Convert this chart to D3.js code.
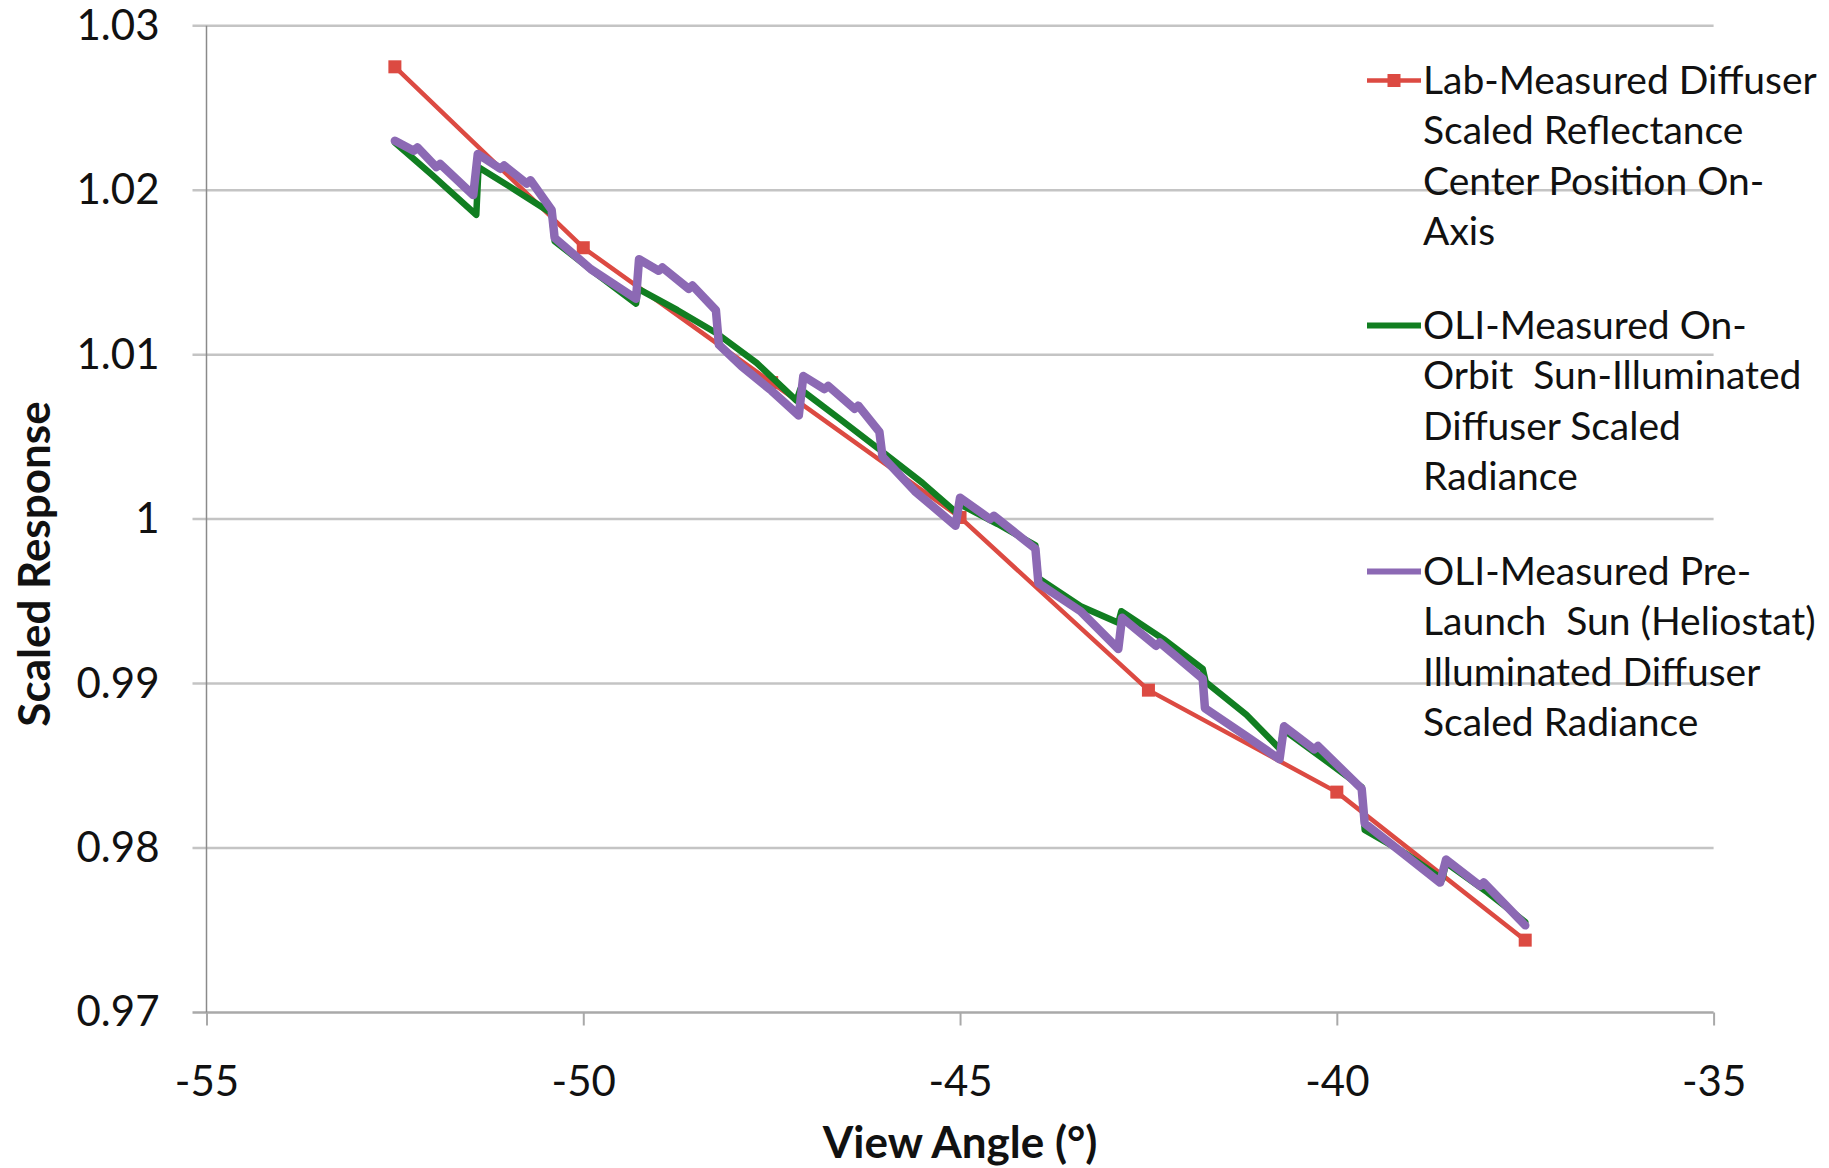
<!DOCTYPE html>
<html>
<head>
<meta charset="utf-8">
<script src="https://cdn.jsdelivr.net/npm/d3@7"></script>
<style>
  body { margin: 0; background: #fff; }
  text { font-family: Lato, "Open Sans", sans-serif; fill: #111; }
</style>
</head>
<body>
<svg width="1829" height="1168"></svg>
<script>
// axis ticks
const angleTicks = [-55, -50, -45, -40, -35];
const responseTicks = [0.97, 0.98, 0.99, 1.00, 1.01, 1.02, 1.03];

// lab-measured diffuser reflectance (square markers)
const labAngle = [-52.5, -50, -47.5, -45, -42.5, -40, -37.5];
const labResponse = [1.0275, 1.0165, 1.0083, 1.0001, 0.9896, 0.9834, 0.9744];

// OLI on-orbit sun-illuminated diffuser radiance
const orbitAngle = [-52.5, -52.0, -51.42, -51.39, -50.9, -50.42, -50.38, -49.85, -49.3, -49.27,
  -48.75, -48.23, -47.7, -47.17, -47.12, -46.6, -46.06, -45.5, -45.05, -45.0, -44.5, -44.0,
  -43.96, -43.4, -42.9, -42.86, -42.3, -41.78, -41.74, -41.2, -40.75, -40.71, -40.2, -39.67,
  -39.63, -39.1, -38.6, -38.55, -38.0, -37.5];
const orbitResponse = [1.0229, 1.0209, 1.0185, 1.0214, 1.0200, 1.0186, 1.0169, 1.0150, 1.0131, 1.0140,
  1.0127, 1.0113, 1.0095, 1.0072, 1.0079, 1.0061, 1.0042, 1.0022, 1.0004, 1.0009, 0.9997, 0.9984,
  0.9964, 0.9947, 0.9937, 0.9944, 0.9927, 0.9909, 0.9901, 0.9881, 0.9860, 0.9872, 0.9855, 0.9837,
  0.9811, 0.9797, 0.9781, 0.9791, 0.9773, 0.9755];

// OLI pre-launch sun (heliostat) illuminated diffuser radiance
const prelaunchAngle = [-52.5, -52.25, -52.2, -51.95, -51.9, -51.46, -51.4, -51.1, -51.05, -50.75,
  -50.7, -50.42, -50.38, -49.9, -49.3, -49.26, -49.0, -48.95, -48.6, -48.55, -48.24, -48.2, -47.9,
  -47.5, -47.14, -47.08, -46.8, -46.75, -46.4, -46.35, -46.07, -46.03, -45.6, -45.06, -45.0,
  -44.6, -44.55, -44.0, -43.96, -43.4, -42.9, -42.85, -42.4, -42.35, -41.78, -41.75, -41.2,
  -40.76, -40.7, -40.3, -40.25, -39.67, -39.63, -39.1, -38.63, -38.55, -38.1, -38.05, -37.5];
const prelaunchResponse = [1.0230, 1.0224, 1.0226, 1.0214, 1.0216, 1.0197, 1.0222, 1.0213, 1.0215, 1.0204,
  1.0206, 1.0188, 1.0171, 1.0152, 1.0134, 1.0158, 1.0151, 1.0153, 1.0140, 1.0142, 1.0127, 1.0106, 1.0093,
  1.0078, 1.0063, 1.0087, 1.0079, 1.0081, 1.0067, 1.0069, 1.0053, 1.0038, 1.0017, 0.9996, 1.0013,
  1.0000, 1.0002, 0.9982, 0.9961, 0.9944, 0.9921, 0.9940, 0.9923, 0.9925, 0.9903, 0.9885, 0.9868,
  0.9854, 0.9874, 0.9860, 0.9862, 0.9836, 0.9815, 0.9796, 0.9779, 0.9793, 0.9777, 0.9779, 0.9753];

const legendLines = [
  ['Lab-Measured Diffuser', 'Scaled Reflectance', 'Center Position On-', 'Axis'],
  ['OLI-Measured On-', 'Orbit  Sun-Illuminated', 'Diffuser Scaled', 'Radiance'],
  ['OLI-Measured Pre-', 'Launch  Sun (Heliostat)', 'Illuminated Diffuser', 'Scaled Radiance']
];
const seriesColors = ['#dc4a42', '#117e21', '#8c69b4'];

const svg = d3.select('svg');
const plotLeft = 206.5, plotRight = 1713.6, plotTop = 25.7, plotBottom = 1012.5;

const x = d3.scaleLinear().domain([-55, -35]).range([plotLeft, plotRight]);
const y = d3.scaleLinear().domain([0.97, 1.03]).range([plotBottom, plotTop]);

// horizontal gridlines (extend a little left as tick marks)
svg.append('g')
  .selectAll('line')
  .data(responseTicks)
  .join('line')
    .attr('x1', plotLeft - 14)
    .attr('x2', plotRight)
    .attr('y1', d => y(d))
    .attr('y2', d => y(d))
    .attr('stroke', d => d === 0.97 ? '#a9a9a9' : '#c4c4c4')
    .attr('stroke-width', 2.5);

// y axis labels
const yAxis = svg.append('g')
  .attr('transform', `translate(${plotLeft - 14},0)`)
  .call(d3.axisLeft(y)
    .tickValues(responseTicks)
    .tickFormat(d => String(+d.toFixed(2)))
    .tickSize(0)
    .tickPadding(33));
yAxis.select('.domain').remove();
yAxis.selectAll('text').attr('font-size', 42).attr('font-family', 'Lato').attr('fill', '#111');

svg.append('line')
  .attr('x1', plotLeft).attr('x2', plotLeft)
  .attr('y1', plotTop).attr('y2', plotBottom)
  .attr('stroke', '#8a8a8a')
  .attr('stroke-width', 1.5);

// x axis
const xAxis = svg.append('g')
  .attr('transform', `translate(0,${plotBottom})`)
  .call(d3.axisBottom(x)
    .tickValues(angleTicks)
    .tickFormat(d => String(d))
    .tickSize(13)
    .tickPadding(41));
xAxis.select('.domain').remove();
xAxis.selectAll('line').attr('stroke', '#a9a9a9').attr('stroke-width', 2);
xAxis.selectAll('text').attr('font-size', 42).attr('font-family', 'Lato').attr('fill', '#111');

// axis titles
svg.append('text')
  .attr('x', x(-45))
  .attr('y', 1143)
  .attr('dy', '0.35em')
  .attr('text-anchor', 'middle')
  .attr('font-size', 44)
  .attr('font-weight', 'bold')
  .text('View Angle (°)');

svg.append('text')
  .attr('transform', 'translate(35,564) rotate(-90)')
  .attr('dy', '0.35em')
  .attr('text-anchor', 'middle')
  .attr('font-size', 44)
  .attr('font-weight', 'bold')
  .text('Scaled Response');

// series
const line = d3.line().x(d => x(d[0])).y(d => y(d[1]));
const seriesData = [
  d3.zip(labAngle, labResponse),
  d3.zip(orbitAngle, orbitResponse),
  d3.zip(prelaunchAngle, prelaunchResponse)
];
const widths = [4.5, 6.5, 8.5];

seriesData.forEach((pts, i) => {
  svg.append('path')
    .datum(pts)
    .attr('d', line)
    .attr('fill', 'none')
    .attr('stroke', seriesColors[i])
    .attr('stroke-width', widths[i])
    .attr('stroke-linejoin', 'round')
    .attr('stroke-linecap', 'round');
  if (i === 0) {
    svg.append('g')
      .selectAll('rect')
      .data(pts)
      .join('rect')
        .attr('x', d => x(d[0]) - 6.5)
        .attr('y', d => y(d[1]) - 6.5)
        .attr('width', 13)
        .attr('height', 13)
        .attr('fill', seriesColors[0]);
  }
});

// legend
const entryTop = [80.5, 325.5, 571.6];
const lineGap = 50.2;
const legend = svg.append('g');
legendLines.forEach((lines, i) => {
  const g = legend.append('g').attr('transform', `translate(0,${entryTop[i]})`);
  g.append('line')
    .attr('x1', 1367).attr('x2', 1421)
    .attr('stroke', seriesColors[i])
    .attr('stroke-width', i === 0 ? 4.5 : 6);
  if (i === 0) {
    g.append('rect')
      .attr('x', 1387.5).attr('y', -6.5)
      .attr('width', 13).attr('height', 13)
      .attr('fill', seriesColors[0]);
  }
  g.selectAll('text')
    .data(lines)
    .join('text')
      .attr('x', 1423)
      .attr('y', (d, j) => j * lineGap)
      .attr('dy', '0.35em')
      .attr('font-size', 39)
      .style('white-space', 'pre')
      .text(d => d);
});
</script>
</body>
</html>
